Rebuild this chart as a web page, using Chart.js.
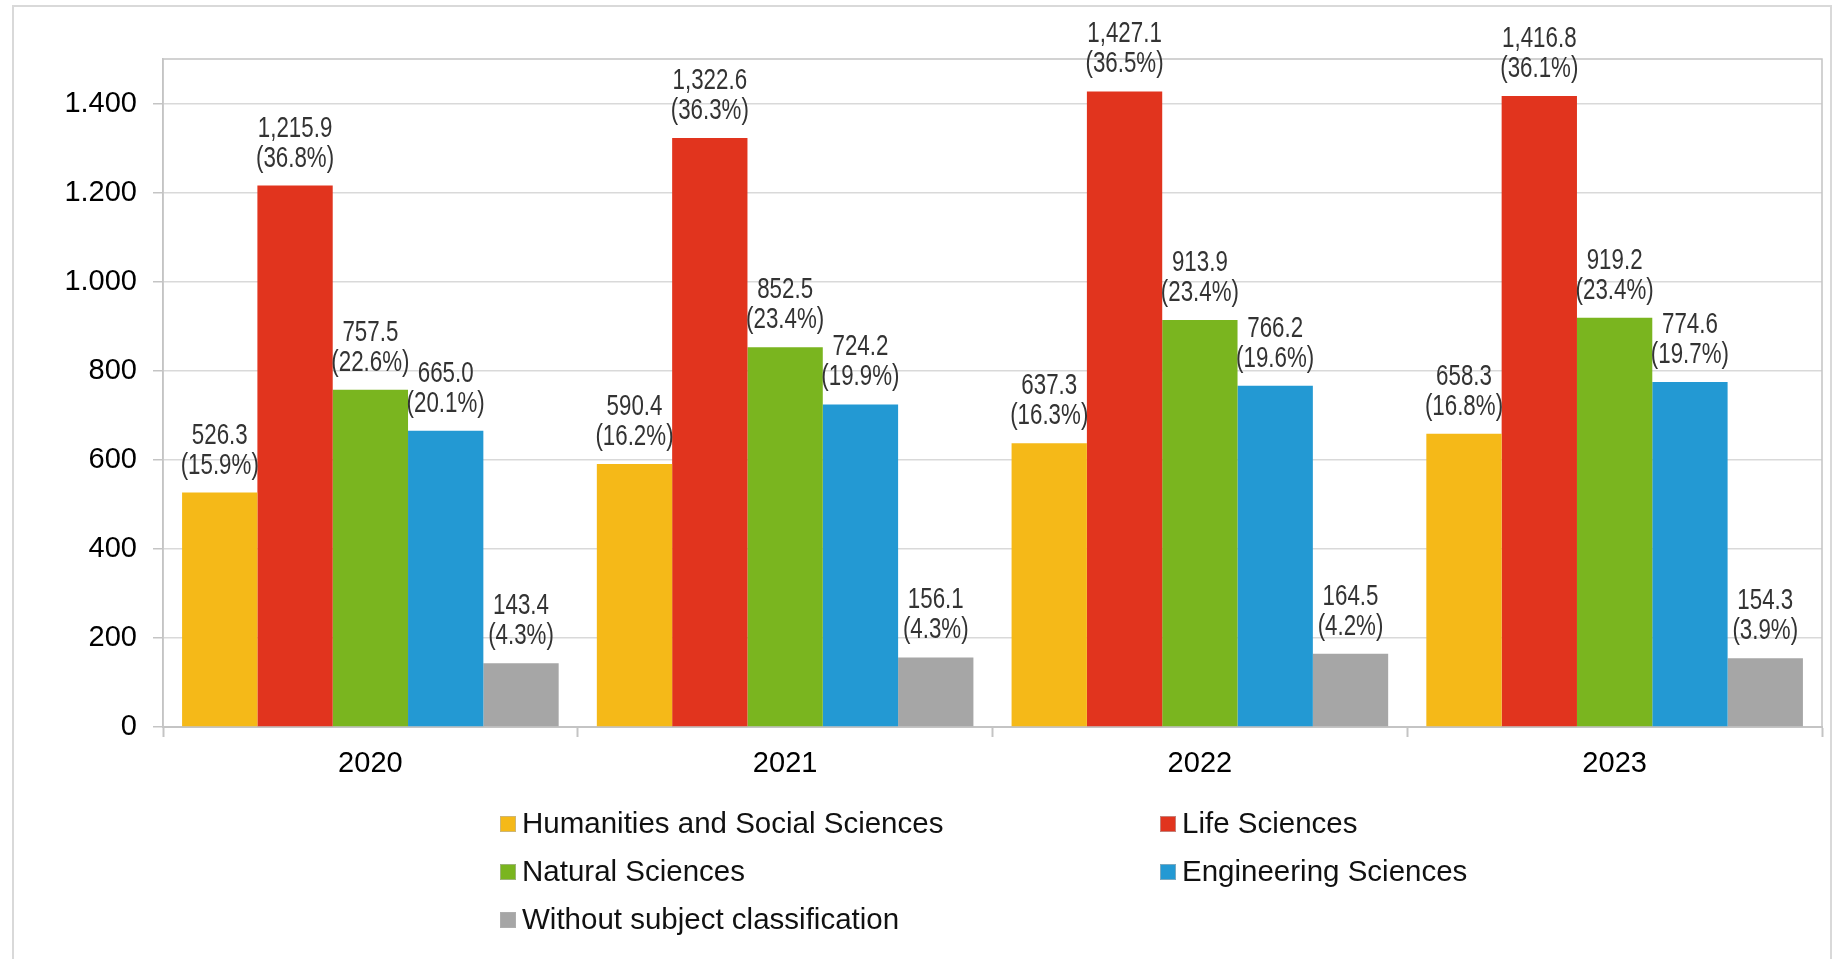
<!DOCTYPE html>
<html>
<head>
<meta charset="utf-8">
<script src="https://cdn.jsdelivr.net/npm/chart.js@4.4.1/dist/chart.umd.min.js"></script>
<style>
  html, body { margin: 0; padding: 0; background: #fff; }
  #wrap { position: absolute; left: 0; top: 0; width: 1837px; height: 959px; }
</style>
</head>
<body>
<div id="wrap"><canvas id="c" width="1837" height="959"></canvas></div>
<script>
// ---- data ----
const categories = ['2020', '2021', '2022', '2023'];
const seriesNames = [
  'Humanities and Social Sciences',
  'Life Sciences',
  'Natural Sciences',
  'Engineering Sciences',
  'Without subject classification'
];
const humanities   = [526.3, 590.4, 637.3, 658.3];
const lifeSci      = [1215.9, 1322.6, 1427.1, 1416.8];
const naturalSci   = [757.5, 852.5, 913.9, 919.2];
const engineering  = [665.0, 724.2, 766.2, 774.6];
const unclassified = [143.4, 156.1, 164.5, 154.3];

const humanitiesPct   = [15.9, 16.2, 16.3, 16.8];
const lifeSciPct      = [36.8, 36.3, 36.5, 36.1];
const naturalSciPct   = [22.6, 23.4, 23.4, 23.4];
const engineeringPct  = [20.1, 19.9, 19.6, 19.7];
const unclassifiedPct = [4.3, 4.3, 4.2, 3.9];

const yTickValues = [0, 200, 400, 600, 800, 1000, 1200, 1400];
const yMax = 1500;

const colors = ['#F5B918', '#E1341E', '#7AB51F', '#2399D3', '#A6A6A6'];
const valuesList = [humanities, lifeSci, naturalSci, engineering, unclassified];
const pctList = [humanitiesPct, lifeSciPct, naturalSciPct, engineeringPct, unclassifiedPct];

const SANS = '"Liberation Sans", Arial, sans-serif';

function fmtDE(v) {
  return String(v).replace(/\B(?=(\d{3})+(?!\d))/g, '.');
}
function fmtEN(v) {
  const s = v.toFixed(1);
  const [i, d] = s.split('.');
  return i.replace(/\B(?=(\d{3})+(?!\d))/g, ',') + '.' + d;
}

const frame = {
  id: 'frame',
  beforeDraw(chart) {
    const ctx = chart.ctx;
    ctx.save();
    ctx.fillStyle = '#fff';
    ctx.fillRect(0, 0, chart.width, chart.height);
    ctx.strokeStyle = '#d9d9d9';
    ctx.lineWidth = 2;
    ctx.strokeRect(13, 6, 1818, 1000);
    ctx.restore();
  },
  afterDatasetsDraw(chart) {
    const ctx = chart.ctx;
    const a = chart.chartArea;
    ctx.save();
    ctx.strokeStyle = '#c4c4c4';
    ctx.lineWidth = 1.5;
    ctx.beginPath();
    ctx.moveTo(a.left, a.bottom);
    ctx.lineTo(a.left, a.top);
    ctx.lineTo(a.right, a.top);
    ctx.lineTo(a.right, a.bottom);
    ctx.stroke();
    ctx.restore();
  }
};

function narrowText(ctx, text, x, y, sx) {
  ctx.save();
  ctx.translate(x, y);
  ctx.scale(sx, 1);
  ctx.fillText(text, 0, 0);
  ctx.restore();
}

const dataLabels = {
  id: 'dataLabels',
  afterDatasetsDraw(chart) {
    const ctx = chart.ctx;
    ctx.save();
    ctx.fillStyle = '#333333';
    ctx.font = '29px ' + SANS;
    ctx.textAlign = 'center';
    ctx.textBaseline = 'alphabetic';
    chart.data.datasets.forEach((ds, di) => {
      const meta = chart.getDatasetMeta(di);
      meta.data.forEach((bar, i) => {
        const v = ds.data[i];
        const p = pctList[di][i];
        narrowText(ctx, fmtEN(v), bar.x, bar.y - 49, 0.77);
        narrowText(ctx, '(' + p.toFixed(1) + '%)', bar.x, bar.y - 19, 0.77);
      });
    });
    ctx.restore();
  }
};

const gridLegend = {
  id: 'gridLegend',
  afterDraw(chart) {
    const ctx = chart.ctx;
    const colX = [500, 1160];
    const rowY = [824, 872, 920];
    ctx.save();
    ctx.font = '29.5px ' + SANS;
    ctx.textBaseline = 'middle';
    ctx.textAlign = 'left';
    chart.data.datasets.forEach((ds, i) => {
      const x = colX[i % 2];
      const y = rowY[Math.floor(i / 2)];
      ctx.fillStyle = ds.backgroundColor;
      ctx.fillRect(x, y - 8, 16, 16);
      ctx.strokeStyle = 'rgba(180,180,180,0.6)';
      ctx.lineWidth = 1;
      ctx.strokeRect(x + 0.5, y - 7.5, 15, 15);
      ctx.fillStyle = '#111';
      ctx.fillText(ds.label, x + 22, y + 1);
    });
    ctx.restore();
  }
};

new Chart(document.getElementById('c'), {
  type: 'bar',
  data: {
    labels: categories,
    datasets: seriesNames.map((name, i) => ({
      label: name,
      data: valuesList[i],
      backgroundColor: colors[i],
      borderWidth: 0,
      barPercentage: 1.0,
      categoryPercentage: 0.908
    }))
  },
  options: {
    responsive: false,
    animation: false,
    devicePixelRatio: 1,
    layout: { padding: { top: 59, right: 15, left: 0, bottom: 0 } },
    plugins: {
      legend: { display: false },
      tooltip: { enabled: false },
      title: { display: false }
    },
    scales: {
      x: {
        offset: true,
        grid: {
          offset: true,
          drawOnChartArea: false,
          drawTicks: true,
          tickLength: 10,
          tickColor: '#c4c4c4',
          tickWidth: 2
        },
        border: { display: true, color: '#c4c4c4', width: 2 },
        ticks: {
          color: '#000',
          font: { family: SANS, size: 29 },
          padding: 10,
          maxRotation: 0
        },
        afterFit(scale) { scale.height = 959 - 727; }
      },
      y: {
        min: 0,
        max: yMax,
        grid: {
          color: '#d9d9d9',
          lineWidth: 1.5,
          drawTicks: true,
          tickLength: 10,
          tickColor: '#c4c4c4'
        },
        border: { display: true, color: '#c4c4c4', width: 1.5 },
        ticks: {
          color: '#000',
          font: { family: SANS, size: 29 },
          padding: 16,
          callback: (v) => fmtDE(v)
        },
        afterBuildTicks(scale) {
          scale.ticks = yTickValues.map(v => ({ value: v }));
        },
        afterFit(scale) { scale.width = 163; }
      }
    }
  },
  plugins: [frame, dataLabels, gridLegend]
});
</script>
</body>
</html>
